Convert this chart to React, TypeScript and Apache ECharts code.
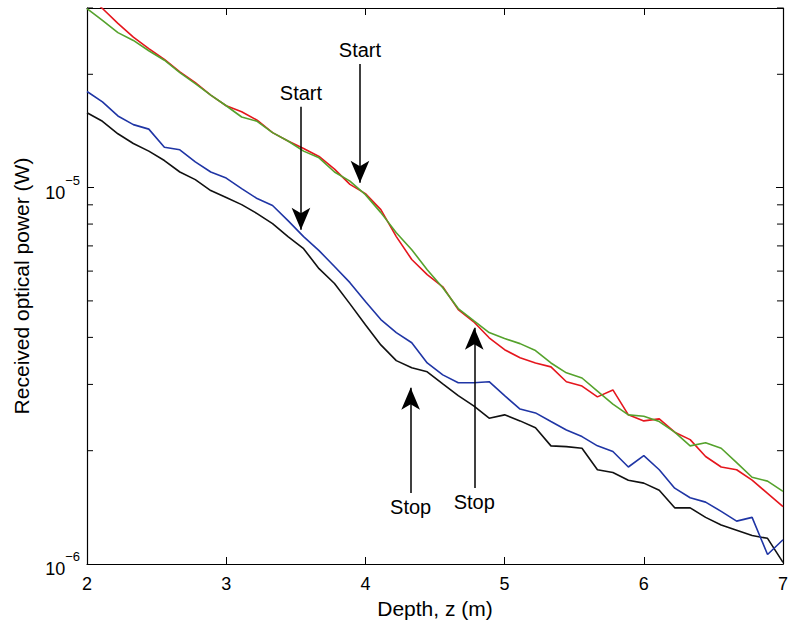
import React, { useEffect, useRef } from "react";
import * as echarts from "echarts";

const FONT = '"Liberation Sans", Arial, Helvetica, sans-serif';

const depth = [
  2.0, 2.111, 2.222, 2.333, 2.444, 2.556, 2.667, 2.778, 2.889, 3.0,
  3.111, 3.222, 3.333, 3.444, 3.556, 3.667, 3.778, 3.889, 4.0,
  4.111, 4.222, 4.333, 4.444, 4.556, 4.667, 4.778, 4.889, 5.0,
  5.111, 5.222, 5.333, 5.444, 5.556, 5.667, 5.778, 5.889, 6.0,
  6.111, 6.222, 6.333, 6.444, 6.556, 6.667, 6.778, 6.889, 7.0,
];

const redPower = [
  3.26e-5, 2.99e-5, 2.73e-5, 2.51e-5, 2.34e-5, 2.19e-5, 2.03e-5, 1.9e-5, 1.76e-5, 1.65e-5,
  1.59e-5, 1.51e-5, 1.4e-5, 1.33e-5, 1.27e-5, 1.21e-5, 1.12e-5, 1.02e-5, 9.64e-6,
  8.74e-6, 7.41e-6, 6.44e-6, 5.87e-6, 5.45e-6, 4.74e-6, 4.4e-6, 3.99e-6, 3.71e-6,
  3.53e-6, 3.42e-6, 3.34e-6, 3.05e-6, 2.97e-6, 2.78e-6, 2.9e-6, 2.49e-6, 2.4e-6,
  2.43e-6, 2.24e-6, 2.14e-6, 1.93e-6, 1.81e-6, 1.78e-6, 1.67e-6, 1.54e-6, 1.42e-6,
];

const greenPower = [
  2.99e-5, 2.78e-5, 2.58e-5, 2.46e-5, 2.31e-5, 2.18e-5, 2.02e-5, 1.89e-5, 1.76e-5, 1.65e-5,
  1.54e-5, 1.5e-5, 1.4e-5, 1.33e-5, 1.25e-5, 1.2e-5, 1.1e-5, 1.04e-5, 9.58e-6,
  8.58e-6, 7.59e-6, 6.84e-6, 6.05e-6, 5.42e-6, 4.77e-6, 4.43e-6, 4.12e-6, 3.97e-6,
  3.85e-6, 3.69e-6, 3.42e-6, 3.22e-6, 3.12e-6, 2.88e-6, 2.66e-6, 2.49e-6, 2.47e-6,
  2.39e-6, 2.24e-6, 2.06e-6, 2.1e-6, 2.03e-6, 1.86e-6, 1.7e-6, 1.66e-6, 1.56e-6,
];

const bluePower = [
  1.8e-5, 1.69e-5, 1.55e-5, 1.47e-5, 1.43e-5, 1.28e-5, 1.26e-5, 1.17e-5, 1.1e-5, 1.06e-5,
  9.94e-6, 9.35e-6, 8.96e-6, 8.17e-6, 7.41e-6, 6.8e-6, 6.17e-6, 5.59e-6, 4.98e-6,
  4.46e-6, 4.12e-6, 3.87e-6, 3.42e-6, 3.18e-6, 3.03e-6, 3.03e-6, 3.05e-6, 2.8e-6,
  2.58e-6, 2.52e-6, 2.39e-6, 2.27e-6, 2.18e-6, 2.06e-6, 1.99e-6, 1.81e-6, 1.94e-6,
  1.78e-6, 1.59e-6, 1.5e-6, 1.46e-6, 1.38e-6, 1.3e-6, 1.33e-6, 1.06e-6, 1.16e-6,
];

const blackPower = [
  1.58e-5, 1.5e-5, 1.39e-5, 1.31e-5, 1.25e-5, 1.18e-5, 1.1e-5, 1.05e-5, 9.82e-6, 9.41e-6,
  9.01e-6, 8.53e-6, 8.02e-6, 7.41e-6, 6.88e-6, 6.09e-6, 5.56e-6, 4.91e-6, 4.32e-6,
  3.82e-6, 3.47e-6, 3.32e-6, 3.24e-6, 3.01e-6, 2.8e-6, 2.63e-6, 2.44e-6, 2.49e-6,
  2.4e-6, 2.3e-6, 2.06e-6, 2.05e-6, 2.03e-6, 1.78e-6, 1.75e-6, 1.67e-6, 1.64e-6,
  1.57e-6, 1.41e-6, 1.41e-6, 1.33e-6, 1.27e-6, 1.23e-6, 1.19e-6, 1.17e-6, 1.01e-6,
];

const minorTicks = [2e-6, 3e-6, 4e-6, 5e-6, 6e-6, 7e-6, 8e-6, 9e-6, 2e-5, 3e-5];

// annotations: [depth, from power, to power, text]
const annotations: [number, number, number, string][] = [
  [3.537, 1.64e-5, 7.73e-6, "Start"],
  [3.961, 2.13e-5, 1.03e-5, "Start"],
  [4.325, 1.545e-6, 2.94e-6, "Stop"],
  [4.782, 1.593e-6, 4.24e-6, "Stop"],
];

export default function App() {
  const ref = useRef<HTMLDivElement>(null);
  useEffect(() => {
    const chart = echarts.init(ref.current!, null, { renderer: "svg" });
    const pairs = (ys: number[]) => depth.map((x, i) => [x, ys[i]]);
    const lineSeries = (name: string, ys: number[], color: string, extra: any = {}) => ({
      name,
      type: "line",
      data: pairs(ys),
      xAxisIndex: 0,
      yAxisIndex: 0,
      showSymbol: false,
      symbol: "none",
      clip: true,
      silent: true,
      lineStyle: { color, width: 1.6 },
      ...extra,
    });
    const axisLine = { show: true, onZero: false, lineStyle: { color: "#000", width: 1.2 } };
    const ylabel = (v: number) => {
      const l = Math.log10(v);
      const e = Math.round(l);
      if (Math.abs(l - e) > 1e-6) return "";
      return `{b|10}{s|\u2212${Math.abs(e)}}`;
    };
    const option: any = {
      animation: false,
      backgroundColor: "#fff",
      grid: { left: 87, right: 8, top: 8, bottom: 63, containLabel: false },
      xAxis: [
        {
          type: "value",
          min: 2,
          max: 7,
          interval: 1,
          position: "bottom",
          axisLine,
          axisTick: { show: true, inside: true, length: 7, lineStyle: { color: "#000", width: 1 } },
          splitLine: { show: false },
          axisLabel: { fontSize: 18, color: "#000", fontFamily: FONT, margin: 11 },
          name: "Depth, z (m)",
          nameLocation: "middle",
          nameGap: 31,
          nameTextStyle: { fontSize: 21, color: "#000", fontFamily: FONT },
        },
        {
          type: "value",
          min: 2,
          max: 7,
          interval: 1,
          position: "top",
          axisLine,
          axisTick: { show: true, inside: true, length: 7, lineStyle: { color: "#000", width: 1 } },
          splitLine: { show: false },
          axisLabel: { show: false },
        },
      ],
      yAxis: [
        {
          type: "log",
          logBase: 10,
          min: 1e-6,
          max: 3e-5,
          position: "left",
          axisLine,
          axisTick: { show: true, inside: true, length: 7, lineStyle: { color: "#000", width: 1 } },
          splitLine: { show: false },
          axisLabel: {
            formatter: ylabel,
            margin: 7,
            rich: {
              b: { fontSize: 18, color: "#000", fontFamily: FONT, lineHeight: 28, verticalAlign: "bottom" },
              s: { fontSize: 13, color: "#000", fontFamily: FONT, lineHeight: 28, verticalAlign: "top" },
            },
          },
          name: "Received optical power (W)",
          nameLocation: "middle",
          nameGap: 55,
          nameTextStyle: { fontSize: 21, color: "#000", fontFamily: FONT },
        },
        {
          type: "log",
          logBase: 10,
          min: 1e-6,
          max: 3e-5,
          position: "right",
          axisLine,
          axisTick: { show: true, inside: true, length: 7, lineStyle: { color: "#000", width: 1 } },
          splitLine: { show: false },
          axisLabel: { show: false },
        },
      ],
      series: [
        {
          type: "custom",
          xAxisIndex: 0,
          yAxisIndex: 0,
          silent: true,
          clip: false,
          data: minorTicks.map((v) => [2, v]),
          renderItem: (params: any, api: any) => {
            const v = api.value(1);
            const l = api.coord([2, v]);
            const r = api.coord([7, v]);
            const st = { stroke: "#000", lineWidth: 1 };
            return {
              type: "group",
              children: [
                { type: "line", shape: { x1: l[0], y1: l[1], x2: l[0] + 6, y2: l[1] }, style: st },
                { type: "line", shape: { x1: r[0] - 6, y1: r[1], x2: r[0], y2: r[1] }, style: st },
              ],
            };
          },
        },
        lineSeries("black", blackPower, "#111111", {
          markLine: {
            silent: true,
            animation: false,
            symbol: ["none", "arrow"],
            lineStyle: { color: "#000", width: 1.5, type: "solid" },
            emphasis: { disabled: true },
            data: annotations.map(([x, y0, y1, text]) => [
              {
                coord: [x, y0],
                symbol: "none",
                label: {
                  show: true,
                  position: "start",
                  formatter: text,
                  fontSize: 20,
                  color: "#000",
                  fontFamily: FONT,
                  distance: 4,
                },
              },
              { coord: [x, y1], symbol: "arrow", symbolSize: [14, 22] },
            ]),
          },
        }),
        lineSeries("blue", bluePower, "#1f35a5"),
        lineSeries("red", redPower, "#e5161d"),
        lineSeries("green", greenPower, "#55a22c"),
      ],
    };
    chart.setOption(option);
    return () => chart.dispose();
  }, []);
  return (
    <div
      ref={ref}
      style={{ position: "fixed", left: 0, top: 0, width: 791, height: 627, background: "#fff" }}
    />
  );
}
